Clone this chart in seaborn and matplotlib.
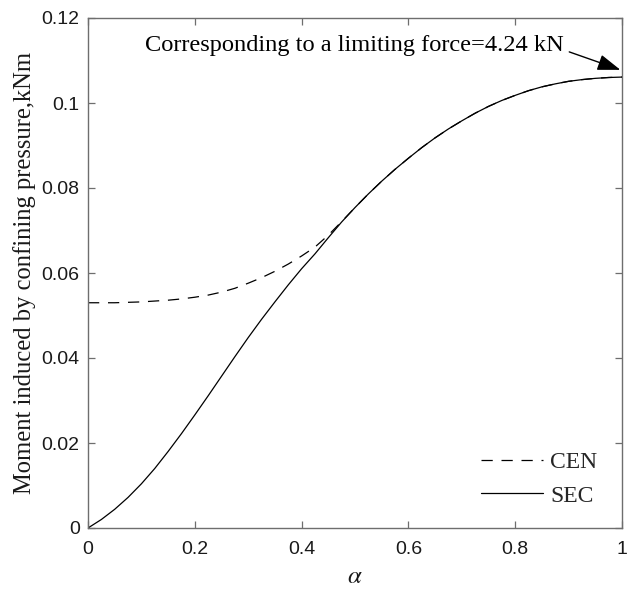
import numpy as np
import pandas as pd
import matplotlib
matplotlib.use("Agg")
import matplotlib.pyplot as plt
import seaborn as sns

alpha = [0.000, 0.025, 0.050, 0.075, 0.100, 0.125, 0.150, 0.175, 0.200, 0.225,
         0.250, 0.275, 0.300, 0.325, 0.350, 0.375, 0.400, 0.425, 0.450, 0.475,
         0.500, 0.525, 0.550, 0.575, 0.600, 0.625, 0.650, 0.675, 0.700, 0.725,
         0.750, 0.775, 0.800, 0.825, 0.850, 0.875, 0.900, 0.925, 0.950, 0.975,
         1.000]
sec = [0.0000, 0.0020, 0.0044, 0.0072, 0.0104, 0.0140, 0.0180, 0.0222, 0.0266,
       0.0311, 0.0357, 0.0403, 0.0448, 0.0491, 0.0532, 0.0572, 0.0610, 0.0645,
       0.0683, 0.0720, 0.0754, 0.0786, 0.0816, 0.0844, 0.0870, 0.0895, 0.0918,
       0.0939, 0.0958, 0.0976, 0.0992, 0.1006, 0.1018, 0.1029, 0.1038, 0.1045,
       0.1051, 0.1055, 0.1058, 0.1060, 0.1061]
cen = [0.0530, 0.0530, 0.0530, 0.0531, 0.0532, 0.0534, 0.0536, 0.0539, 0.0543,
       0.0548, 0.0555, 0.0564, 0.0576, 0.0589, 0.0604, 0.0621, 0.0640, 0.0661,
       0.0689, 0.0721, 0.0754, 0.0786, 0.0816, 0.0844, 0.0870, 0.0895, 0.0918,
       0.0939, 0.0958, 0.0976, 0.0992, 0.1006, 0.1018, 0.1029, 0.1038, 0.1045,
       0.1051, 0.1055, 0.1058, 0.1060, 0.1061]
series_names = ["CEN", "SEC"]
xticks = [0, 0.2, 0.4, 0.6, 0.8, 1]
xtick_labels = ["0", "0.2", "0.4", "0.6", "0.8", "1"]
yticks = [0, 0.02, 0.04, 0.06, 0.08, 0.1, 0.12]
ytick_labels = ["0", "0.02", "0.04", "0.06", "0.08", "0.1", "0.12"]
annotation = "Corresponding to a limiting force=4.24 kN"

df = pd.DataFrame({
    "alpha": alpha * 2,
    "M": cen + sec,
    "series": [series_names[0]] * len(alpha) + [series_names[1]] * len(alpha),
})

sns.set_theme(style="white")
plt.rcParams["font.family"] = ["Liberation Serif", "DejaVu Serif"]
plt.rcParams["mathtext.fontset"] = "stix"

fig = plt.figure(figsize=(6.27, 5.9), dpi=100)
ax = fig.add_axes([88 / 627, 1 - 528 / 590, (622 - 88) / 627, (528 - 18) / 590])

sns.lineplot(data=df, x="alpha", y="M", style="series", hue="series",
             palette={"CEN": "black", "SEC": "black"},
             dashes={"CEN": (9, 7), "SEC": ""}, linewidth=0.9,
             sort=False, ax=ax, legend=True)

ax.set_xlim(0, 1)
ax.set_ylim(0, 0.12)
ax.set_xticks(xticks)
ax.set_xticklabels(xtick_labels)
ax.set_yticks(yticks)
ax.set_yticklabels(ytick_labels)
for lab in ax.get_xticklabels() + ax.get_yticklabels():
    lab.set_fontfamily("Liberation Sans")
    lab.set_fontsize(14)
    lab.set_color("#1a1a1a")

spine_col = "#6e6e6e"
for s in ax.spines.values():
    s.set_visible(True)
    s.set_color(spine_col)
    s.set_linewidth(1.0)
ax.tick_params(direction="in", length=5, width=0.9, color=spine_col,
               top=True, right=True, bottom=True, left=True)
ax.tick_params(axis="x", pad=9)
ax.tick_params(axis="y", pad=6)

ax.set_xlabel(r"$\alpha$", fontsize=18, labelpad=6, color="#1a1a1a")
ax.set_ylabel("Moment induced by confining pressure,kNm", fontsize=17.7,
              labelpad=4, color="#1a1a1a")

ax.annotate(annotation, xy=(0.997, 0.1078), xytext=(0.106, 0.1135),
            fontsize=17.6, color="black", va="center", ha="left",
            arrowprops=dict(arrowstyle="-|>,head_length=0.8,head_width=0.28",
                            color="black", lw=1.0, shrinkA=2, shrinkB=0,
                            relpos=(1.0, 0.3)))

handles, labels = ax.get_legend_handles_labels()
leg = ax.legend(handles=handles, labels=labels, loc="lower right",
                frameon=False, fontsize=17, handlelength=2.6,
                handletextpad=0.3, labelspacing=0.5,
                bbox_to_anchor=(0.993, 0.0))

fig.savefig("out.png", dpi=100)
